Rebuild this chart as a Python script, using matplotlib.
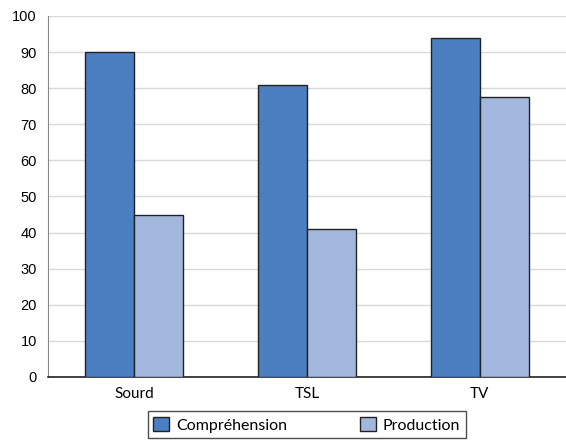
import matplotlib.pyplot as plt
import numpy as np

categories = ['Sourd', 'TSL', 'TV']
comprehension = [90, 81, 94]
production = [45, 41, 77.5]

dark = '#4a7fc1'
light = '#a3b7dd'

plt.rcParams['font.family'] = ['Liberation Sans', 'DejaVu Sans']

fig = plt.figure(figsize=(5.66, 4.43), dpi=100)
ax = fig.add_axes([0.085, 0.149, 0.915, 0.815])

x = np.arange(len(categories))
w = 0.284
b1 = ax.bar(x - w / 2, comprehension, w, color=dark, edgecolor='#222222', linewidth=1, zorder=3)
b2 = ax.bar(x + w / 2, production, w, color=light, edgecolor='#222222', linewidth=1, zorder=3)

ax.set_xlim(-0.5, 2.5)
ax.set_ylim(0, 100)
ax.set_yticks(range(0, 101, 10))
ax.set_xticks(x)
ax.set_xticklabels(categories, fontsize=11, family=['Lato', 'DejaVu Sans'])
ax.tick_params(axis='y', labelsize=10.5, length=0, pad=8)
ax.tick_params(axis='x', length=0, pad=7)
ax.yaxis.grid(True, color='#d9d9d9', linewidth=1, zorder=0)

for s in ['top', 'right']:
    ax.spines[s].set_visible(False)
ax.spines['left'].set_color('#888888')
ax.spines['bottom'].set_color('#222222')
ax.spines['bottom'].set_linewidth(1.2)

leg = fig.legend([b1, b2], ['Compréhension', 'Production'], loc='lower center',
                 bbox_to_anchor=(0.542, 0.0), ncol=2,
                 prop={'family': ['Lato', 'DejaVu Sans'], 'size': 11.5},
                 frameon=True, fancybox=False, edgecolor='#222222',
                 columnspacing=4.6, handlelength=1.0, handleheight=1.0,
                 handletextpad=0.4, borderpad=0.35, borderaxespad=0.3)
leg.get_frame().set_linewidth(1.0)

fig.savefig('out.png', dpi=100)
